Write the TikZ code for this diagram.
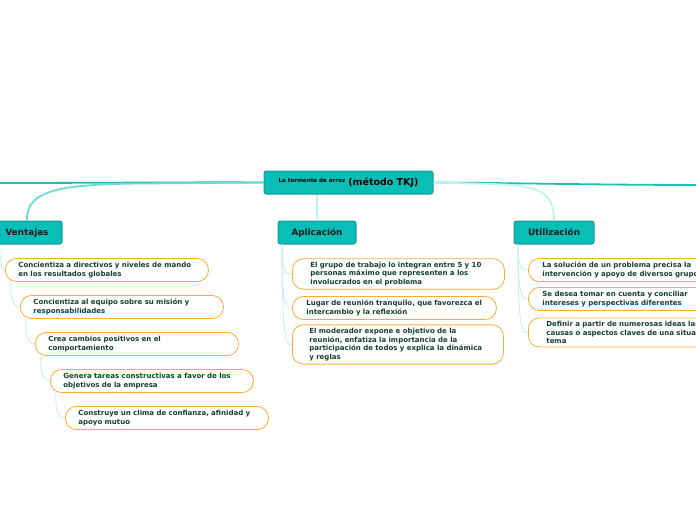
\documentclass[tikz,border=0pt]{standalone}
\usepackage{fontspec}
\setmainfont{DejaVu Sans}
\definecolor{teal1}{RGB}{10,190,184}
\definecolor{tealdark}{RGB}{24,150,148}
\definecolor{line1}{RGB}{24,192,186}
\definecolor{branchA}{RGB}{110,218,214}
\definecolor{branchB}{RGB}{190,244,242}
\definecolor{twig}{RGB}{196,240,240}
\definecolor{orng}{RGB}{255,170,50}
\definecolor{txt}{RGB}{20,62,50}
\tikzset{
  central/.style={draw=tealdark,fill=teal1,line width=1pt,rounded corners=2.5pt,minimum width=169,minimum height=23,inner sep=0pt},
  topic/.style={draw=tealdark,fill=teal1,line width=1pt,rounded corners=2.5pt,minimum height=23,inner sep=0pt,text height=6.6pt,text depth=0.8pt,font=\fontsize{8.8}{10}\selectfont\bfseries,text=black!90},
  leaf/.style={draw=orng,line width=0.8pt,rounded corners=11pt,minimum height=23,inner ysep=3pt,align=left,font=\fontsize{7}{8.8}\selectfont\bfseries,text=txt,anchor=west},
  mainline/.style={draw=line1,line width=1.8pt},
  branch/.style={line width=1.8pt},
  twigline/.style={draw=twig,line width=0.9pt}
}
\begin{document}
\begin{tikzpicture}[x=1pt,y=-1pt]
\useasboundingbox (0,0) rectangle (696,520);
\clip (0,0) rectangle (696,520);
% central
\node[central] (c) at (348.5,182.5) {\raisebox{2.4pt}{\fontsize{5.6}{6}\selectfont\bfseries La tormenta de arroz}\hspace{3pt}{\fontsize{9.5}{11}\selectfont\bfseries (método TKJ)}};
\coordinate (offL) at (-10,183);
\coordinate (offR) at (706,185);
% topics
\node[topic,minimum width=70] (v) at (27,232.5) {Ventajas};
\node[topic,minimum width=78] (a) at (317,232.5) {Aplicación};
\node[topic,minimum width=80] (u) at (554,232.5) {Utilización};
% main lines
\draw[mainline] (c.west) .. controls (200,182) and (100,183) .. (offL);
\draw[mainline] (c.east) .. controls (520,183) and (600,185) .. (offR);
% branches
\draw[branch,draw=branchA] (v.north) .. controls (26,190) and (60,184.5) .. (140,183.5) -- (c.west);
\draw[branch,draw=branchB] (a.north) -- (a.north |- c.south);
\draw[branch,draw=branchB] (u.north) .. controls (554,192) and (540,185) .. (490,184) -- (c.east);
% Ventajas leaves
\node[leaf,text width=177,inner xsep=13] (v1) at (5,270) {Concientiza a directivos y niveles de mando\\en los resultados globales};
\node[leaf,text width=177,inner xsep=13] (v2) at (20,307) {Concientiza al equipo sobre su misión y\\responsabilidades};
\node[leaf,text width=177,inner xsep=13] (v3) at (35,344) {Crea cambios positivos en el\\comportamiento};
\node[leaf,text width=177,inner xsep=13] (v4) at (50,381) {Genera tareas constructivas a favor de los\\objetivos de la empresa};
\node[leaf,text width=177,inner xsep=13] (v5) at (65,418) {Construye un clima de confianza, afinidad y\\apoyo mutuo};
% Aplicacion leaves
\node[leaf,text width=176,inner xsep=18] (a1) at (292,274) {El grupo de trabajo lo integran entre 5 y 10\\personas máximo que representen a los\\involucrados en el problema};
\node[leaf,text width=176,inner xsep=14] (a2) at (292,308) {Lugar de reunión tranquilo, que favorezca el\\intercambio y la reflexión};
\node[leaf,text width=177,inner xsep=17] (a3) at (292,344.5) {El moderador expone e objetivo de la\\reunión, enfatiza la importancia de la\\participación de todos y explica la dinámica\\y reglas};
% Utilizacion leaves
\node[leaf,text width=200,inner xsep=14] (u1) at (528,270) {La solución de un problema precisa la\\intervención y apoyo de diversos grupos};
\node[leaf,text width=200,inner xsep=14] (u2) at (528,299) {Se desea tomar en cuenta y conciliar\\intereses y perspectivas diferentes};
\node[leaf,text width=200,inner xsep=18] (u3) at (528,332.5) {Definir a partir de numerosas ideas las\\causas o aspectos claves de una situación o\\tema};
% twigs (Ventajas: chain)
\coordinate (vb) at (1,250);
\draw[twigline] (vb) .. controls (1,262) and (0,270) .. (v1.west);
\draw[twigline] ([xshift=6pt]v1.south west) .. controls (10,295) and (12,307) .. (v2.west);
\draw[twigline] ([xshift=6pt]v2.south west) .. controls (25,332) and (27,344) .. (v3.west);
\draw[twigline] ([xshift=6pt]v3.south west) .. controls (40,369) and (42,381) .. (v4.west);
\draw[twigline] ([xshift=6pt]v4.south west) .. controls (55,406) and (57,418) .. (v5.west);
% twigs (Aplicacion, Utilizacion)
\coordinate (ab) at (282,244);
\coordinate (ub) at (518,244);
\foreach \n in {a1,a2,a3}{
  \draw[twigline] (ab) .. controls (ab |- \n.west) and ([xshift=-6pt]\n.west) .. (\n.west);
}
\foreach \n in {u1,u2,u3}{
  \draw[twigline] (ub) .. controls (ub |- \n.west) and ([xshift=-6pt]\n.west) .. (\n.west);
}
\end{tikzpicture}
\end{document}
